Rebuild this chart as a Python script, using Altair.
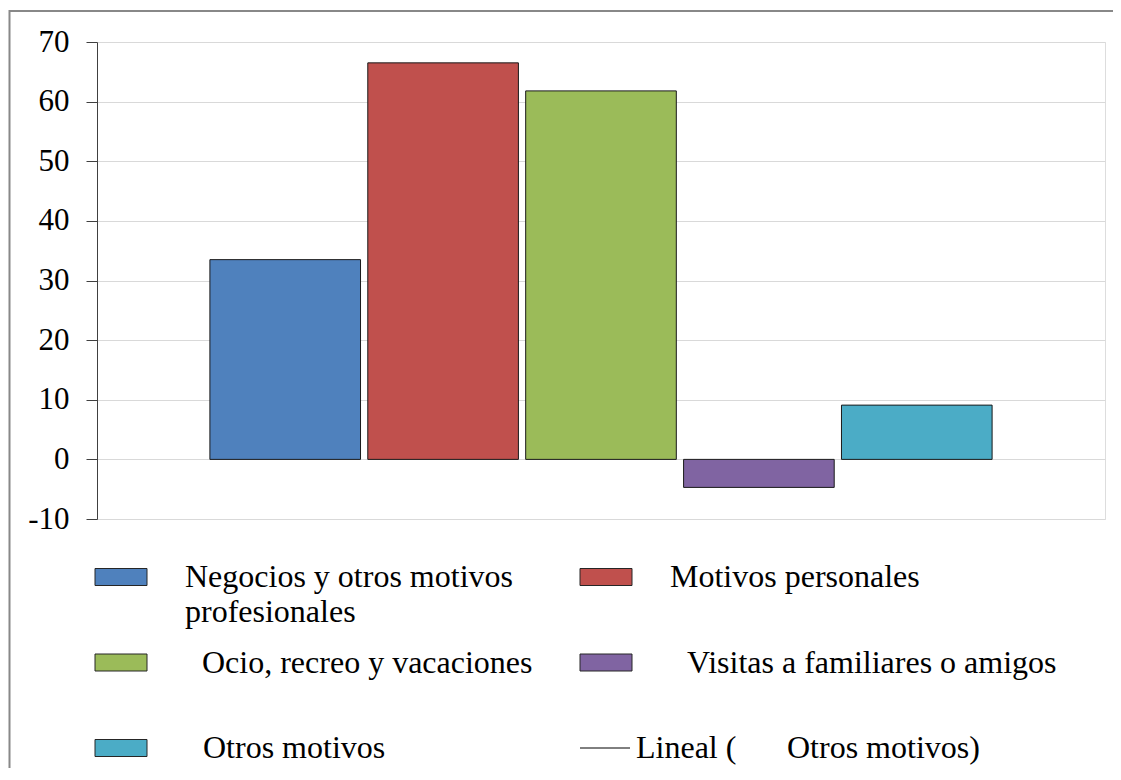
import altair as alt
import pandas as pd

# ---- data ----
series = [
    "Negocios y otros motivos profesionales",
    "Motivos personales",
    "Ocio, recreo y vacaciones",
    "Visitas a familiares o amigos",
    "Otros motivos",
]
values = [33.5, 66.5, 61.8, -4.7, 9.1]
legend_labels = [
    "Negocios y otros motivos\nprofesionales",
    "Motivos personales",
    "Ocio, recreo y vacaciones",
    "Visitas a familiares o amigos",
    "Otros motivos",
]
trend_labels = ["Lineal (", "Otros motivos)"]
y_ticks = [-10, 0, 10, 20, 30, 40, 50, 60, 70]

# ---- styles ----
colors = ["#4F81BD", "#C0504D", "#9BBB59", "#8064A2", "#4BACC6"]
FONT = "Liberation Serif"
FS = 32

bars_df = pd.DataFrame({"serie": series, "valor": values})

color_scale = alt.Scale(domain=series, range=colors)

bars = alt.Chart(bars_df).mark_bar(stroke="#1a1a1a", strokeWidth=1).encode(
    x=alt.X("serie:N", sort=series, axis=None,
            scale=alt.Scale(paddingInner=0.046, paddingOuter=0.715)),
    y=alt.Y("valor:Q",
            scale=alt.Scale(domain=[-10, 70], nice=False, zero=True),
            axis=alt.Axis(values=y_ticks, title=None, grid=True,
                          gridColor="#d9d9d9", gridWidth=1,
                          domainColor="#404040", tickColor="#404040",
                          tickSize=11, labelPadding=17,
                          labelExpr="'' + datum.value",
                          labelFont=FONT, labelFontSize=31,
                          labelColor="#000000")),
    color=alt.Color("serie:N", scale=color_scale, legend=None),
)

# ---- hand-built legend (layout in view pixel coordinates) ----
X0, COL_W, Y0, ROW_H = -2, 485, 535, 85.5
SW_W, SW_H = 52, 17
indents = [90, 90, 107, 107, 108]

sw_rows, tx_rows = [], []
for i, (s, lab) in enumerate(zip(series, legend_labels)):
    col, row = i % 2, i // 2
    x = X0 + col * COL_W
    y = Y0 + row * ROW_H
    sw_rows.append({"serie": s, "x": x, "x2": x + SW_W,
                    "y": y - SW_H / 2, "y2": y + SW_H / 2})
    tx_rows.append({"label": lab, "x": x + indents[i], "y": y + 10})

# trend-line legend entry (slot 6)
tx_col, tx_row = 1, 2
tx_x = X0 + tx_col * COL_W
tx_y = Y0 + tx_row * ROW_H
line_df = pd.DataFrame([{"x": tx_x, "x2": tx_x + 50, "y": tx_y}])
tx_rows.append({"label": trend_labels[0], "x": tx_x + 56, "y": tx_y + 10})
tx_rows.append({"label": trend_labels[1], "x": tx_x + 207, "y": tx_y + 10})

sw_df = pd.DataFrame(sw_rows)
tx_df = pd.DataFrame(tx_rows)

swatches = alt.Chart(sw_df).mark_rect(stroke="#262626", strokeWidth=1).encode(
    x=alt.X("x:Q", scale=None, axis=None),
    x2="x2:Q",
    y=alt.Y("y:Q", scale=None, axis=None),
    y2="y2:Q",
    color=alt.Color("serie:N", scale=color_scale, legend=None),
)

texts = alt.Chart(tx_df).mark_text(
    align="left", baseline="alphabetic", font=FONT, fontSize=FS,
    color="#000000", lineBreak="\n", lineHeight=35,
).encode(
    x=alt.X("x:Q", scale=None, axis=None),
    y=alt.Y("y:Q", scale=None, axis=None),
    text="label:N",
)

trend = alt.Chart(line_df).mark_rule(color="#000000", strokeWidth=1).encode(
    x=alt.X("x:Q", scale=None, axis=None),
    x2="x2:Q",
    y=alt.Y("y:Q", scale=None, axis=None),
)

border = alt.Chart(bars_df.head(1)).mark_rect(
    fillOpacity=0, stroke="#888888", strokeWidth=2
).encode(
    x=alt.value(-87.5), x2=alt.value(1040),
    y=alt.value(-31), y2=alt.value(800),
)

chart = alt.layer(border, bars, swatches, trend, texts).resolve_scale(
    x="independent", y="independent"
).properties(
    width=1008, height=477,
    autosize=alt.AutoSizeParams(type="none"),
    padding={"left": 89, "top": 34, "right": 8, "bottom": 249},
).configure_view(stroke=None).configure_axis(
    labelFont=FONT
).configure(background="#ffffff", font=FONT)

chart.save("out.html", embed_options={"renderer": "svg", "actions": False})
